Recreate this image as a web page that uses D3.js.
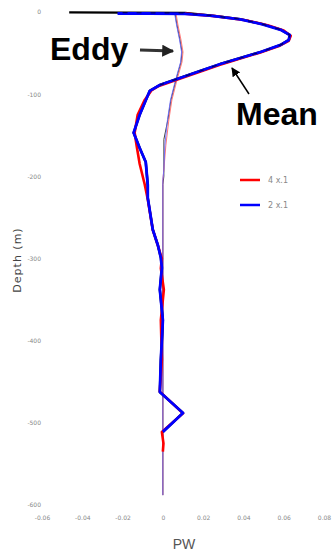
<!DOCTYPE html>
<html>
<head>
<meta charset="utf-8">
<script src="https://cdn.jsdelivr.net/npm/d3@7"></script>
<style>
  html, body { margin: 0; padding: 0; background: #fff; }
  svg { display: block; }
</style>
</head>
<body>
<svg id="chart" width="336" height="558"></svg>
<script>
// Tick values and labels
const xTicks = [-0.06, -0.04, -0.02, 0, 0.02, 0.04, 0.06, 0.08];
const xTickLabels = ["-0.06", "-0.04", "-0.02", "0", "0.02", "0.04", "0.06", "0.08"];
const yTicks = [0, 100, 200, 300, 400, 500, 600];
const yTickLabels = ["0", "-100", "-200", "-300", "-400", "-500", "-600"];

// Mean PW profiles: [PW, depth (m)]
const meanBlack = [
  [-0.0465, 0.5], [-0.02, 0.8], [0.011, 1.2], [0.0235, 4.2], [0.0385, 8.7], [0.0495, 14.8],
  [0.0585, 21.5], [0.063, 28], [0.0625, 34], [0.0585, 40], [0.0485, 48.7], [0.0385, 56],
  [0.0285, 63.3], [0.0185, 71.8], [0.0085, 80.3], [-0.0015, 88.8], [-0.0065, 96],
  [-0.008, 104.6], [-0.0115, 125], [-0.0145, 147], [-0.0115, 165.5], [-0.0085, 182.5],
  [-0.0075, 210.5], [-0.0075, 226], [-0.005, 265], [-0.0025, 283.6], [-0.001, 299],
  [-0.0005, 311.5], [-0.0015, 338], [0, 375], [-0.001, 423.5], [-0.0015, 462.5],
  [0.01, 488], [0, 511]
];
const meanRed = [
  [0.011, 2.0], [0.026, 5.0], [0.041, 10], [0.052, 16], [0.06, 22.5], [0.0635, 29],
  [0.0625, 35], [0.058, 41], [0.048, 49.5], [0.038, 57], [0.028, 64.5], [0.018, 73],
  [0.008, 81.5], [-0.002, 90], [-0.0055, 95], [-0.009, 107], [-0.0125, 125],
  [-0.014, 147], [-0.013, 163], [-0.0115, 185], [-0.009, 210], [-0.0075, 228],
  [-0.005, 265], [-0.0025, 284], [-0.0005, 300], [-0.001, 312], [0.0005, 338],
  [-0.001, 375], [-0.0005, 423], [-0.0015, 462], [0.01, 488.5], [-0.0005, 511],
  [0.0003, 525], [0, 535]
];
const meanBlue = [
  [-0.0225, 1.8], [-0.0065, 1.8], [0.011, 2.4], [0.0235, 4.4], [0.0385, 8.9], [0.0495, 15],
  [0.0585, 21.7], [0.063, 28], [0.0625, 34], [0.0585, 40], [0.0485, 48.7], [0.0385, 56],
  [0.0285, 63.3], [0.0185, 71.8], [0.0085, 80.3], [-0.0015, 88.8], [-0.0065, 96],
  [-0.008, 104.6], [-0.0115, 125], [-0.0145, 147], [-0.0115, 165.5], [-0.0085, 182.5],
  [-0.0075, 210.5], [-0.0075, 226], [-0.005, 265], [-0.0025, 283.6], [-0.001, 299],
  [-0.0005, 311.5], [-0.0015, 338], [0, 375], [-0.001, 423.5], [-0.0015, 462.5],
  [0.01, 488], [0, 511]
];

// Eddy PW profiles: [PW, depth (m)]
const eddyBlack = [
  [0.006, 1.2], [0.007, 15.8], [0.0085, 34], [0.0095, 48.7], [0.009, 61], [0.0065, 82.8],
  [0.004, 107], [0.0025, 131], [0.0005, 155], [0.0005, 200], [0, 210], [0, 588]
];
const eddyRed = [
  [0.0065, 1.2], [0.0075, 15.8], [0.009, 34], [0.01, 48.7], [0.0095, 61], [0.007, 82.8],
  [0.0045, 107], [0.003, 131], [0.0015, 162], [0.0005, 192], [0, 204], [0, 588]
];
const eddyBlue = [
  [0.0058, 1.2], [0.0068, 15.8], [0.0083, 34], [0.0093, 48.7], [0.0088, 61], [0.0063, 82.8],
  [0.0038, 107], [0.0023, 131], [0.001, 162], [0.0005, 192], [0, 204], [0, 588]
];

// Legend entries
const legendLabels = ["4 x.1", "2 x.1"];
const legendColors = ["#ff0000", "#0000ff"];

const svg = d3.select("#chart");

const x = d3.scaleLinear().domain([-0.06, 0.08]).range([42, 324]);
const y = d3.scaleLinear().domain([0, 600]).range([12, 505]);

// Axes: only the tiny tick labels are drawn
const xAxis = d3.axisBottom(x).tickValues(xTicks)
  .tickFormat((d, i) => xTickLabels[i]).tickSize(0).tickPadding(0);
const gx = svg.append("g").attr("transform", "translate(0,516)").call(xAxis);
gx.select(".domain").remove();
gx.selectAll("text").attr("font-size", 6).attr("fill", "#888")
  .attr("font-family", "DejaVu Sans, sans-serif");

const yAxis = d3.axisLeft(y).tickValues(yTicks)
  .tickFormat((d, i) => yTickLabels[i]).tickSize(0).tickPadding(0);
const gy = svg.append("g").attr("transform", "translate(41,0)").call(yAxis);
gy.select(".domain").remove();
gy.selectAll("text").attr("font-size", 6).attr("fill", "#888")
  .attr("font-family", "DejaVu Sans, sans-serif");

const line = d3.line().x(d => x(d[0])).y(d => y(d[1])).curve(d3.curveLinear);

// Eddy profiles (thin)
svg.append("path").datum(eddyBlack).attr("d", line)
  .attr("fill", "none").attr("stroke", "#444").attr("stroke-width", 1);
svg.append("path").datum(eddyRed).attr("d", line)
  .attr("fill", "none").attr("stroke", "#ff4040").attr("stroke-width", 0.7);
svg.append("path").datum(eddyBlue).attr("d", line)
  .attr("fill", "none").attr("stroke", "#6a6aff").attr("stroke-width", 0.9);

// Mean profiles (thick)
svg.append("path").datum(meanBlack).attr("d", line)
  .attr("fill", "none").attr("stroke", "#000").attr("stroke-width", 2.4)
  .attr("stroke-linejoin", "round");
svg.append("path").datum(meanRed).attr("d", line)
  .attr("fill", "none").attr("stroke", "#ff0000").attr("stroke-width", 2.6)
  .attr("stroke-linejoin", "round");
svg.append("path").datum(meanBlue).attr("d", line)
  .attr("fill", "none").attr("stroke", "#0000ff").attr("stroke-width", 2.8)
  .attr("stroke-linejoin", "round");
svg.append("path").datum(meanBlack.slice(1, 16)).attr("d", line)
  .attr("fill", "none").attr("stroke", "#000").attr("stroke-width", 1.2)
  .attr("stroke-dasharray", "5,9").attr("stroke-opacity", 0.6);

// Legend
const legend = svg.append("g");
legendLabels.forEach((lab, i) => {
  const ly = 180 + i * 25;
  legend.append("line").attr("x1", 240).attr("x2", 260).attr("y1", ly).attr("y2", ly)
    .attr("stroke", legendColors[i]).attr("stroke-width", 2.5);
  legend.append("text").attr("x", 268).attr("y", ly + 3).text(lab)
    .attr("font-size", 8).attr("fill", "#888").attr("font-family", "DejaVu Sans, sans-serif");
});

// Annotations
const defs = svg.append("defs");
defs.append("marker").attr("id", "head").attr("viewBox", "0 0 10 10")
  .attr("refX", 9).attr("refY", 5).attr("markerWidth", 4).attr("markerHeight", 4)
  .attr("orient", "auto")
  .append("path").attr("d", "M0,0 L10,5 L0,10 z").attr("fill", "#222");
defs.append("marker").attr("id", "head2").attr("viewBox", "0 0 10 10")
  .attr("refX", 9).attr("refY", 5).attr("markerWidth", 6).attr("markerHeight", 6)
  .attr("orient", "auto")
  .append("path").attr("d", "M0,0 L10,5 L0,10 z").attr("fill", "#000");

svg.append("text").attr("x", 50).attr("y", 60).text("Eddy")
  .attr("font-family", "Liberation Sans, Arial, sans-serif").attr("font-weight", "bold")
  .attr("font-size", 32).attr("fill", "#000");
svg.append("line").attr("x1", 140).attr("y1", 50).attr("x2", 173).attr("y2", 51)
  .attr("stroke", "#333").attr("stroke-width", 3).attr("marker-end", "url(#head)");

svg.append("text").attr("x", 236).attr("y", 125).text("Mean")
  .attr("font-family", "Liberation Sans, Arial, sans-serif").attr("font-weight", "bold")
  .attr("font-size", 32).attr("fill", "#000");
svg.append("line").attr("x1", 249).attr("y1", 94).attr("x2", 232).attr("y2", 68)
  .attr("stroke", "#000").attr("stroke-width", 1.5).attr("marker-end", "url(#head2)");

// Axis titles
svg.append("text").attr("transform", "translate(21,260) rotate(-90)")
  .attr("text-anchor", "middle").text("Depth (m)")
  .attr("font-family", "DejaVu Sans, sans-serif").attr("font-size", 11)
  .attr("letter-spacing", 1).attr("fill", "#444");
svg.append("text").attr("x", 184).attr("y", 549).attr("text-anchor", "middle").text("PW")
  .attr("font-family", "Liberation Sans Narrow, Liberation Sans, sans-serif")
  .attr("font-size", 14).attr("fill", "#555");
</script>
</body>
</html>
